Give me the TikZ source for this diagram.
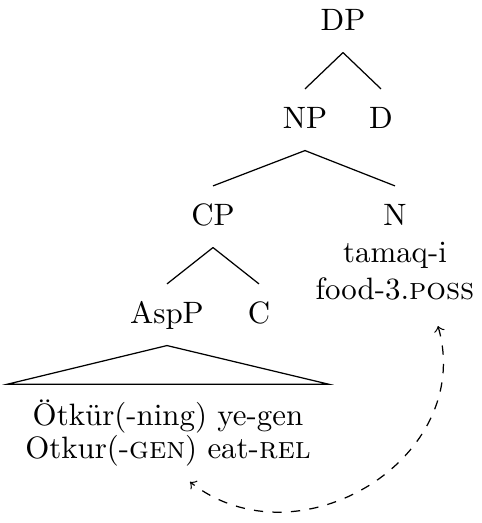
\documentclass[tikz,border=0pt]{standalone}
\usepackage{tikz}
\usetikzlibrary{positioning, calc}

\begin{document}
\begin{tikzpicture}[
    x=0.3236pt, y=0.3236pt,
    cat/.style={anchor=base, inner xsep=2pt, inner ysep=7.1pt,
                text height=5.35pt, text depth=0pt},
    gloss/.style={anchor=base, align=center, inner sep=0pt},
    link/.style={<->, dashed},
  ]
    \useasboundingbox (0,0) rectangle (481,523);
    % categories
    \node[cat] (DP) at (343,493) {DP};
    \node[cat] (NP) at (305,395) {NP};
    \node[cat] (D) at (381,395) {D};
    \node[cat] (CP) at (213,298) {CP};
    \node[cat] (N) at (395,298) {N};
    \node[cat] (ASPP) at (167,200) {AspP};
    \node[cat] (C) at (259,200) {C};
    % words
    \node[gloss] (NOUN) at (395,223) {tamaq-i\\food-3.\textsc{poss}};
    \node[gloss, inner ysep=4.7pt, minimum width=103.5pt,
          font=\fontsize{10}{11}\selectfont] (CLAUSE) at (168,64)
      {Ötkür(-ning) ye-gen\\Otkur(-\textsc{gen}) eat-\textsc{rel}};
    % branches
    \draw (DP.south) -- (NP.north);
    \draw (DP.south) -- (D.north);
    \draw (NP.south) -- (CP.north);
    \draw (NP.south) -- (N.north);
    \draw (CP.south) -- (ASPP.north);
    \draw (CP.south) -- (C.north);
    \draw (ASPP.south) -- (CLAUSE.north west) -- (CLAUSE.north east) -- cycle;
    % movement
    \draw[link] ([xshift=13.9pt, yshift=-8pt]NOUN.south)
      to[out=-74, in=-38, looseness=1.2] ([xshift=7.1pt]CLAUSE.south);
\end{tikzpicture}
\end{document}
